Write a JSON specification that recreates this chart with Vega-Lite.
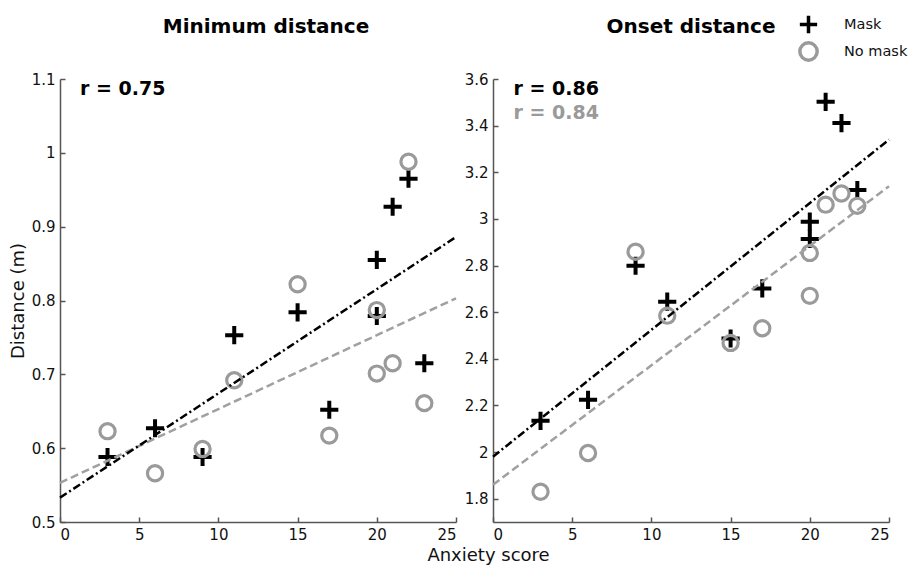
{
  "$schema": "https://vega.github.io/schema/vega-lite/v6.json",
  "padding": {"left": 9, "top": 14, "right": 5, "bottom": 5},
  "background": "white",
  "datasets": {
    "pts": [
      {"panel": "min", "group": "Mask", "x": 3, "y": 0.588},
      {"panel": "min", "group": "Mask", "x": 6, "y": 0.627},
      {"panel": "min", "group": "Mask", "x": 9, "y": 0.588},
      {"panel": "min", "group": "Mask", "x": 11, "y": 0.753},
      {"panel": "min", "group": "Mask", "x": 15, "y": 0.784},
      {"panel": "min", "group": "Mask", "x": 17, "y": 0.652},
      {"panel": "min", "group": "Mask", "x": 20, "y": 0.779},
      {"panel": "min", "group": "Mask", "x": 20, "y": 0.855},
      {"panel": "min", "group": "Mask", "x": 21, "y": 0.927},
      {"panel": "min", "group": "Mask", "x": 22, "y": 0.965},
      {"panel": "min", "group": "Mask", "x": 23, "y": 0.715},
      {"panel": "min", "group": "No mask", "x": 3, "y": 0.623},
      {"panel": "min", "group": "No mask", "x": 6, "y": 0.566},
      {"panel": "min", "group": "No mask", "x": 9, "y": 0.599},
      {"panel": "min", "group": "No mask", "x": 11, "y": 0.692},
      {"panel": "min", "group": "No mask", "x": 15, "y": 0.822},
      {"panel": "min", "group": "No mask", "x": 17, "y": 0.617},
      {"panel": "min", "group": "No mask", "x": 20, "y": 0.787},
      {"panel": "min", "group": "No mask", "x": 20, "y": 0.701},
      {"panel": "min", "group": "No mask", "x": 21, "y": 0.715},
      {"panel": "min", "group": "No mask", "x": 22, "y": 0.988},
      {"panel": "min", "group": "No mask", "x": 23, "y": 0.661},
      {"panel": "onset", "group": "Mask", "x": 3, "y": 2.134},
      {"panel": "onset", "group": "Mask", "x": 6, "y": 2.224},
      {"panel": "onset", "group": "Mask", "x": 9, "y": 2.799},
      {"panel": "onset", "group": "Mask", "x": 11, "y": 2.645},
      {"panel": "onset", "group": "Mask", "x": 15, "y": 2.487},
      {"panel": "onset", "group": "Mask", "x": 17, "y": 2.702},
      {"panel": "onset", "group": "Mask", "x": 20, "y": 2.988},
      {"panel": "onset", "group": "Mask", "x": 20, "y": 2.914},
      {"panel": "onset", "group": "Mask", "x": 21, "y": 3.502},
      {"panel": "onset", "group": "Mask", "x": 22, "y": 3.411},
      {"panel": "onset", "group": "Mask", "x": 23, "y": 3.124},
      {"panel": "onset", "group": "No mask", "x": 3, "y": 1.830},
      {"panel": "onset", "group": "No mask", "x": 6, "y": 1.996},
      {"panel": "onset", "group": "No mask", "x": 9, "y": 2.859},
      {"panel": "onset", "group": "No mask", "x": 11, "y": 2.585},
      {"panel": "onset", "group": "No mask", "x": 15, "y": 2.468},
      {"panel": "onset", "group": "No mask", "x": 17, "y": 2.531},
      {"panel": "onset", "group": "No mask", "x": 20, "y": 2.854},
      {"panel": "onset", "group": "No mask", "x": 20, "y": 2.670},
      {"panel": "onset", "group": "No mask", "x": 21, "y": 3.061},
      {"panel": "onset", "group": "No mask", "x": 22, "y": 3.109},
      {"panel": "onset", "group": "No mask", "x": 23, "y": 3.056}
    ],
    "fits": [
      {"panel": "min", "group": "Mask", "x": 0, "y": 0.533},
      {"panel": "min", "group": "Mask", "x": 25, "y": 0.886},
      {"panel": "min", "group": "No mask", "x": 0, "y": 0.553},
      {"panel": "min", "group": "No mask", "x": 25, "y": 0.803},
      {"panel": "onset", "group": "Mask", "x": 0, "y": 1.98},
      {"panel": "onset", "group": "Mask", "x": 25, "y": 3.34},
      {"panel": "onset", "group": "No mask", "x": 0, "y": 1.86},
      {"panel": "onset", "group": "No mask", "x": 25, "y": 3.14}
    ],
    "stats": [
      {"panel": "min", "group": "Mask", "x": 1.26, "y": 1.078, "label": "r = 0.75"},
      {"panel": "onset", "group": "Mask", "x": 1.3, "y": 3.531, "label": "r = 0.86"},
      {"panel": "onset", "group": "No mask", "x": 1.3, "y": 3.43, "label": "r = 0.84"}
    ]
  },
  "hconcat": [
    {
      "width": 396,
      "height": 443,
      "title": {"text": "Minimum distance", "dx": 8},
      "layer": [
        {
          "data": {"name": "pts"},
          "transform": [{"filter": "datum.panel === 'min' && datum.group === 'Mask'"}],
          "mark": {"type": "point", "filled": false, "opacity": 1, "size": 330, "strokeWidth": 4},
          "encoding": {
            "x": {"field": "x", "type": "quantitative", "scale": {"domain": [0, 25], "nice": false}, "axis": {"values": [0, 5, 10, 15, 20, 25], "title": null}},
            "y": {"field": "y", "type": "quantitative", "scale": {"domain": [0.5, 1.1], "zero": false, "nice": false}, "axis": {"values": [0.5, 0.6, 0.7, 0.8, 0.9, 1, 1.1], "title": "Distance (m)", "format": "~g"}},
            "shape": {"field": "group", "type": "nominal", "scale": {"domain": ["Mask", "No mask"], "range": ["M-1,0H1M0,-1V1", "circle"]}, "legend": {"title": null, "orient": "none", "legendX": 738, "legendY": -65}},
            "color": {"field": "group", "type": "nominal", "scale": {"domain": ["Mask", "No mask"], "range": ["#000000", "#9a9a9a"]}, "legend": {"title": null, "orient": "none", "legendX": 738, "legendY": -65}}
          }
        },
        {
          "data": {"name": "pts"},
          "transform": [{"filter": "datum.panel === 'min' && datum.group === 'No mask'"}],
          "mark": {"type": "point", "filled": false, "opacity": 1, "size": 230, "strokeWidth": 3.2},
          "encoding": {
            "x": {"field": "x", "type": "quantitative"},
            "y": {"field": "y", "type": "quantitative"},
            "shape": {"field": "group", "type": "nominal"},
            "color": {"field": "group", "type": "nominal"}
          }
        },
        {
          "data": {"name": "fits"},
          "transform": [{"filter": "datum.panel === 'min' && datum.group === 'No mask'"}],
          "mark": {"type": "line", "color": "#a0a0a0", "strokeWidth": 2.5, "strokeDash": [8, 4]},
          "encoding": {"x": {"field": "x", "type": "quantitative"}, "y": {"field": "y", "type": "quantitative"}}
        },
        {
          "data": {"name": "fits"},
          "transform": [{"filter": "datum.panel === 'min' && datum.group === 'Mask'"}],
          "mark": {"type": "line", "color": "#000000", "strokeWidth": 2.5, "strokeDash": [8, 3, 2, 3]},
          "encoding": {"x": {"field": "x", "type": "quantitative"}, "y": {"field": "y", "type": "quantitative"}}
        },
        {
          "data": {"name": "stats"},
          "transform": [{"filter": "datum.panel === 'min'"}],
          "mark": {"type": "text", "align": "left", "baseline": "alphabetic", "font": "DejaVu Sans", "fontWeight": "bold", "fontSize": 19, "color": "#000000"},
          "encoding": {"x": {"field": "x", "type": "quantitative"}, "y": {"field": "y", "type": "quantitative"}, "text": {"field": "label"}}
        }
      ]
    },
    {
      "width": 396,
      "height": 443,
      "title": {"text": "Onset distance"},
      "layer": [
        {
          "data": {"name": "pts"},
          "transform": [{"filter": "datum.panel === 'onset' && datum.group === 'Mask'"}],
          "mark": {"type": "point", "filled": false, "opacity": 1, "size": 330, "strokeWidth": 4},
          "encoding": {
            "x": {"field": "x", "type": "quantitative", "scale": {"domain": [0, 25], "nice": false}, "axis": {"values": [0, 5, 10, 15, 20, 25], "title": "Anxiety score", "titleX": -5, "titleY": 38, "titleBaseline": "alphabetic", "titleAlign": "center"}},
            "y": {"field": "y", "type": "quantitative", "scale": {"domain": [1.7, 3.6], "zero": false, "nice": false}, "axis": {"values": [1.8, 2, 2.2, 2.4, 2.6, 2.8, 3, 3.2, 3.4, 3.6], "title": null, "format": "~g"}},
            "shape": {"field": "group", "type": "nominal", "scale": {"domain": ["Mask", "No mask"], "range": ["M-1,0H1M0,-1V1", "circle"]}, "legend": {"title": null, "orient": "none", "legendX": 738, "legendY": -65}},
            "color": {"field": "group", "type": "nominal", "scale": {"domain": ["Mask", "No mask"], "range": ["#000000", "#9a9a9a"]}, "legend": {"title": null, "orient": "none", "legendX": 738, "legendY": -65}}
          }
        },
        {
          "data": {"name": "pts"},
          "transform": [{"filter": "datum.panel === 'onset' && datum.group === 'No mask'"}],
          "mark": {"type": "point", "filled": false, "opacity": 1, "size": 230, "strokeWidth": 3.2},
          "encoding": {
            "x": {"field": "x", "type": "quantitative"},
            "y": {"field": "y", "type": "quantitative"},
            "shape": {"field": "group", "type": "nominal"},
            "color": {"field": "group", "type": "nominal"}
          }
        },
        {
          "data": {"name": "fits"},
          "transform": [{"filter": "datum.panel === 'onset' && datum.group === 'No mask'"}],
          "mark": {"type": "line", "color": "#a0a0a0", "strokeWidth": 2.5, "strokeDash": [8, 4]},
          "encoding": {"x": {"field": "x", "type": "quantitative"}, "y": {"field": "y", "type": "quantitative"}}
        },
        {
          "data": {"name": "fits"},
          "transform": [{"filter": "datum.panel === 'onset' && datum.group === 'Mask'"}],
          "mark": {"type": "line", "color": "#000000", "strokeWidth": 2.5, "strokeDash": [8, 3, 2, 3]},
          "encoding": {"x": {"field": "x", "type": "quantitative"}, "y": {"field": "y", "type": "quantitative"}}
        },
        {
          "data": {"name": "stats"},
          "transform": [{"filter": "datum.panel === 'onset' && datum.group === 'Mask'"}],
          "mark": {"type": "text", "align": "left", "baseline": "alphabetic", "font": "DejaVu Sans", "fontWeight": "bold", "fontSize": 19, "color": "#000000"},
          "encoding": {"x": {"field": "x", "type": "quantitative"}, "y": {"field": "y", "type": "quantitative"}, "text": {"field": "label"}}
        },
        {
          "data": {"name": "stats"},
          "transform": [{"filter": "datum.panel === 'onset' && datum.group === 'No mask'"}],
          "mark": {"type": "text", "align": "left", "baseline": "alphabetic", "font": "DejaVu Sans", "fontWeight": "bold", "fontSize": 19, "color": "#9a9a9a"},
          "encoding": {"x": {"field": "x", "type": "quantitative"}, "y": {"field": "y", "type": "quantitative"}, "text": {"field": "label"}}
        }
      ]
    }
  ],
  "spacing": 37,
  "bounds": "flush",
  "resolve": {"scale": {"shape": "shared", "color": "shared"}, "legend": {"shape": "shared", "color": "shared"}},
  "config": {
    "view": {"stroke": null},
    "axis": {
      "grid": false,
      "domainColor": "#555555",
      "domainWidth": 1.5,
      "tickColor": "#555555",
      "tickWidth": 1.5,
      "tickSize": -5,
      "labelPadding": 10,
      "labelFont": "DejaVu Sans",
      "labelFontSize": 15,
      "labelColor": "#111111",
      "titleFont": "DejaVu Sans",
      "titleFontSize": 18,
      "titleFontWeight": "normal",
      "titleColor": "#111111"
    },
    "title": {"font": "DejaVu Sans", "fontSize": 20, "fontWeight": "bold", "color": "#000000", "anchor": "middle", "offset": 35},
    "legend": {
      "padding": 0,
      "labelFont": "DejaVu Sans",
      "labelFontSize": 14.5,
      "labelColor": "#111111",
      "labelOffset": 25,
      "symbolSize": 300,
      "symbolStrokeWidth": 3.5,
      "rowPadding": -9
    }
  }
}
